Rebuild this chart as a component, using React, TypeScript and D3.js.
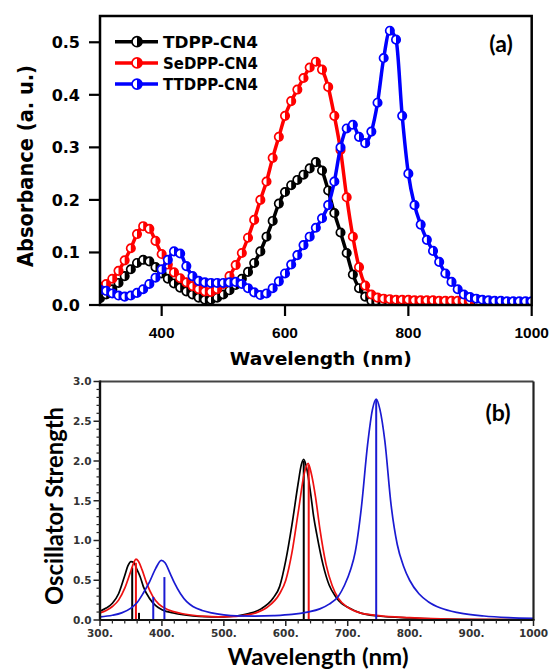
import React from 'react';
import * as d3 from 'd3';

// ---------- Panel (a): absorbance ----------
const absWavelengths = [
  300, 310, 320, 330, 340, 350, 360, 370, 380, 390,
  400, 410, 420, 430, 440, 450, 460, 470, 480, 490,
  500, 510, 520, 530, 540, 550, 560, 570, 580, 590,
  600, 610, 620, 630, 640, 650, 660, 670, 680, 690,
  700, 710, 720, 730, 740, 750, 760, 770, 780, 790,
  800, 810, 820, 830, 840, 850, 860, 870, 880, 890,
  900, 910, 920, 930, 940, 950, 960, 970, 980, 990, 1000,
];
const tdppAbs = [
  0.013, 0.02, 0.03, 0.042, 0.055, 0.068, 0.08, 0.086, 0.083, 0.072,
  0.06, 0.05, 0.041, 0.033, 0.026, 0.02, 0.014, 0.01, 0.01, 0.014,
  0.02, 0.028, 0.038, 0.05, 0.063, 0.08, 0.102, 0.13, 0.16, 0.193,
  0.215, 0.228, 0.238, 0.248, 0.26, 0.272, 0.256, 0.218, 0.175, 0.138,
  0.099, 0.058, 0.032, 0.016, 0.008, 0.005, 0.004, 0.004, 0.004, 0.004,
  0.004, 0.004, 0.004, 0.004, 0.004, 0.004, 0.004, 0.004, 0.004, 0.004,
  0.004, null, null, null, null, null, null, null, null, null, null,
];
const sedppAbs = [
  0.035, 0.04, 0.05, 0.065, 0.085, 0.108, 0.135, 0.15, 0.145, 0.122,
  0.097, 0.077, 0.062, 0.051, 0.043, 0.036, 0.03, 0.026, 0.025, 0.03,
  0.04, 0.055, 0.076, 0.099, 0.128, 0.162, 0.2, 0.235, 0.28, 0.32,
  0.36, 0.388, 0.41, 0.432, 0.452, 0.463, 0.448, 0.415, 0.36, 0.295,
  0.205, 0.13, 0.072, 0.037, 0.02, 0.014, 0.012, 0.011, 0.01, 0.01,
  0.01, 0.009, 0.009, 0.009, 0.009, 0.008, 0.008, 0.008, 0.008, 0.008,
  0.008, null, null, null, null, null, null, null, null, null, null,
];
const ttdppAbs = [
  0.029, 0.027, 0.022, 0.018, 0.016, 0.018, 0.023, 0.03, 0.04, 0.052,
  0.068, 0.086, 0.102, 0.098, 0.074, 0.055, 0.046, 0.043, 0.042, 0.042,
  0.042, 0.043, 0.044, 0.04, 0.032, 0.024, 0.019, 0.022, 0.032, 0.045,
  0.06, 0.077, 0.095, 0.114, 0.13, 0.147, 0.165, 0.19, 0.235, 0.3,
  0.336, 0.343, 0.32, 0.308, 0.33, 0.385, 0.47, 0.522, 0.505, 0.36,
  0.25, 0.19, 0.153, 0.124, 0.103, 0.082, 0.06, 0.044, 0.03, 0.02,
  0.015, 0.012, 0.01, 0.009, 0.008, 0.008, 0.007, 0.007, 0.007, 0.007, 0.007,
];
const absSeriesNames = ['TDPP-CN4', 'SeDPP-CN4', 'TTDPP-CN4'];
const absYTicks = [0.0, 0.1, 0.2, 0.3, 0.4, 0.5];
const absXTicks = [400, 600, 800, 1000];

// ---------- Panel (b): oscillator strength ----------
const tdppOscWl = [300, 310, 320, 330, 340, 345, 350, 355, 360, 365, 370, 380, 390, 400, 420, 440, 460, 480, 500, 520, 540, 560, 580, 590, 600, 610, 620, 625, 629, 634, 640, 645, 650, 660, 670, 680, 690, 700, 720, 750, 800, 850, 900, 1000];
const tdppOscVal = [0.11, 0.15, 0.21, 0.33, 0.56, 0.68, 0.735, 0.72, 0.63, 0.54, 0.42, 0.27, 0.18, 0.13, 0.085, 0.06, 0.045, 0.04, 0.04, 0.05, 0.08, 0.14, 0.28, 0.42, 0.75, 1.2, 1.72, 1.95, 2.02, 1.9, 1.6, 1.3, 1.08, 0.7, 0.44, 0.3, 0.21, 0.16, 0.09, 0.05, 0.025, 0.012, 0.006, 0.002];
const sedppOscWl = [300, 310, 320, 330, 340, 350, 355, 358, 362, 368, 375, 385, 395, 410, 430, 450, 470, 490, 510, 530, 550, 570, 590, 600, 610, 620, 630, 636, 641, 648, 655, 665, 675, 685, 700, 720, 750, 800, 850, 900, 1000];
const sedppOscVal = [0.09, 0.12, 0.17, 0.25, 0.4, 0.62, 0.73, 0.765, 0.74, 0.63, 0.47, 0.3, 0.2, 0.13, 0.085, 0.06, 0.045, 0.04, 0.042, 0.055, 0.085, 0.16, 0.33, 0.5, 0.85, 1.35, 1.85, 1.97, 1.85, 1.55, 1.15, 0.7, 0.43, 0.27, 0.16, 0.09, 0.055, 0.03, 0.015, 0.008, 0.003];
const ttdppOscWl = [300, 320, 335, 350, 360, 370, 380, 390, 399, 405, 413, 420, 430, 440, 450, 465, 480, 500, 520, 550, 580, 610, 635, 655, 670, 685, 695, 705, 712, 722, 732, 740, 746, 752, 760, 770, 780, 790, 800, 815, 830, 850, 880, 920, 960, 1000];
const ttdppOscVal = [0.04, 0.06, 0.09, 0.15, 0.22, 0.34, 0.48, 0.65, 0.75, 0.72, 0.59, 0.47, 0.33, 0.23, 0.17, 0.12, 0.09, 0.065, 0.052, 0.05, 0.055, 0.07, 0.1, 0.14, 0.2, 0.3, 0.44, 0.64, 0.85, 1.41, 2.2, 2.65, 2.78, 2.65, 2.25, 1.45, 0.95, 0.68, 0.5, 0.33, 0.23, 0.15, 0.09, 0.05, 0.03, 0.02];
const tdppStickWl = [352, 363, 629];
const tdppStickF = [0.66, 0.09, 2.0];
const sedppStickWl = [358, 637];
const sedppStickF = [0.72, 1.95];
const ttdppStickWl = [386, 404, 746];
const ttdppStickF = [0.29, 0.54, 2.78];
const oscYTicks = [0.0, 0.5, 1.0, 1.5, 2.0, 2.5, 3.0];
const oscYMinor = [0.1, 0.2, 0.3, 0.4, 0.6, 0.7, 0.8, 0.9, 1.1, 1.2, 1.3, 1.4, 1.6, 1.7, 1.8, 1.9, 2.1, 2.2, 2.3, 2.4, 2.6, 2.7, 2.8, 2.9];
const oscXTicks = [300, 400, 500, 600, 700, 800, 900, 1000];
const oscXLabels = ['300.', '400.', '500.', '600.', '700.', '800.', '900.', '1000'];
const oscXMinor = [320, 340, 360, 380, 420, 440, 460, 480, 520, 540, 560, 580, 620, 640, 660, 680, 720, 740, 760, 780, 820, 840, 860, 880, 920, 940, 960, 980];

const TOP = { left: 100, right: 531.7, top: 16, bottom: 305 };
const BOT = { left: 100, right: 533.5, top: 381.5, bottom: 620 };

const absColors = ['#000000', '#ff0000', '#0000ff'];
const oscColors = ['#000000', '#ee1111', '#1a1ad2'];

function Marker({ x, y, color, r }: { x: number; y: number; color: string; r: number }) {
  return (
    <g transform={`translate(${x},${y})`}>
      <circle r={r} fill="#fff" stroke={color} strokeWidth={1.7} />
      <path d={`M0,${-r} A${r},${r} 0 0 1 0,${r} Z`} fill={color} />
    </g>
  );
}

export default function App() {
  const xA = d3.scaleLinear().domain([300, 1000]).range([TOP.left, TOP.right]);
  const yA = d3.scaleLinear().domain([0, 0.55]).range([TOP.bottom, TOP.top]);
  const xB = d3.scaleLinear().domain([300, 1000]).range([BOT.left, BOT.right]);
  const yB = d3.scaleLinear().domain([0, 3]).range([BOT.bottom, BOT.top]);

  const absSeries = [tdppAbs, sedppAbs, ttdppAbs].map((vals) =>
    absWavelengths
      .map((w, i) => ({ w, v: vals[i] as number | null }))
      .filter((d) => d.v !== null) as { w: number; v: number }[]
  );
  const lineA = d3
    .line<{ w: number; v: number }>()
    .x((d) => xA(d.w))
    .y((d) => yA(d.v))
    .curve(d3.curveMonotoneX);

  const oscSeries = [
    [tdppOscWl, tdppOscVal],
    [sedppOscWl, sedppOscVal],
    [ttdppOscWl, ttdppOscVal],
  ].map(([wl, vals]) => wl.map((w, i) => ({ w, v: vals[i] })));
  const sticks = [
    [tdppStickWl, tdppStickF],
    [sedppStickWl, sedppStickF],
    [ttdppStickWl, ttdppStickF],
  ];
  const lineB = d3
    .line<{ w: number; v: number }>()
    .x((d) => xB(d.w))
    .y((d) => yB(d.v))
    .curve(d3.curveMonotoneX);

  const boldSans = '"DejaVu Sans", sans-serif';
  const arial = '"Liberation Sans", Arial, sans-serif';
  const calibri = 'Lato, "Open Sans", sans-serif';

  return (
    <svg
      width={551}
      height={671}
      style={{ position: 'absolute', left: 0, top: 0, background: '#fff' }}
    >
      <defs>
        <clipPath id="clipA">
          <rect x={TOP.left} y={TOP.top} width={TOP.right - TOP.left} height={TOP.bottom - TOP.top} />
        </clipPath>
        <clipPath id="clipB">
          <rect x={BOT.left} y={BOT.top} width={BOT.right - BOT.left} height={BOT.bottom - BOT.top} />
        </clipPath>
      </defs>
      <rect x={0} y={0} width={551} height={671} fill="#fff" />

      {/* ---------- Panel (a) ---------- */}
      <g clipPath="url(#clipA)">
        {absSeries.map((s, si) => (
          <g key={si}>
            <path d={lineA(s) || ''} fill="none" stroke={absColors[si]} strokeWidth={3.5} />
            {s.map((d, i) => (
              <Marker key={i} x={xA(d.w)} y={yA(d.v)} color={absColors[si]} r={4.2} />
            ))}
          </g>
        ))}
      </g>
      <rect
        x={TOP.left}
        y={TOP.top}
        width={TOP.right - TOP.left}
        height={TOP.bottom - TOP.top}
        fill="none"
        stroke="#000"
        strokeWidth={2.5}
      />
      {absYTicks.map((t) => (
        <g key={t}>
          <line x1={TOP.left - 11} x2={TOP.left} y1={yA(t)} y2={yA(t)} stroke="#000" strokeWidth={2.2} />
          <text
            x={80}
            y={yA(t)}
            dy="0.36em"
            textAnchor="end"
            fontFamily={boldSans}
            fontWeight="bold"
            fontSize={16}
          >
            {t.toFixed(1)}
          </text>
        </g>
      ))}
      {absXTicks.map((t) => (
        <g key={t}>
          <line x1={xA(t)} x2={xA(t)} y1={TOP.bottom} y2={TOP.bottom + 11} stroke="#000" strokeWidth={2.2} />
          <text x={xA(t)} y={338} textAnchor="middle" fontFamily={arial} fontWeight="bold" fontSize={15.5}>
            {t}
          </text>
        </g>
      ))}
      <text
        transform={`translate(33,166) scale(1.15,1) rotate(-90)`}
        textAnchor="middle"
        fontFamily={boldSans}
        fontWeight="bold"
        fontSize={19}
        textLength={202}
        lengthAdjust="spacingAndGlyphs"
      >
        Absorbance (a. u.)
      </text>
      <text
        x={(TOP.left + TOP.right) / 2 + 5}
        y={365}
        textAnchor="middle"
        fontFamily={boldSans}
        fontWeight="bold"
        fontSize={18}
        textLength={182}
        lengthAdjust="spacingAndGlyphs"
      >
        Wavelength (nm)
      </text>
      <text x={501} y={52} textAnchor="middle" fontFamily={calibri} fontWeight="bold" fontSize={23}>
        (a)
      </text>
      {/* legend */}
      {absSeriesNames.map((n, i) => {
        const ly = 41.7 + i * 21.2;
        return (
          <g key={n}>
            <line x1={115} x2={158} y1={ly} y2={ly} stroke={absColors[i]} strokeWidth={3.5} />
            <Marker x={137} y={ly} color={absColors[i]} r={5} />
            <text
              x={163}
              y={ly + 6}
              fontFamily={boldSans}
              fontWeight="bold"
              fontSize={16}
              textLength={95}
              lengthAdjust="spacingAndGlyphs"
            >
              {n}
            </text>
          </g>
        );
      })}

      {/* ---------- Panel (b) ---------- */}
      <g clipPath="url(#clipB)">
        {oscSeries.map((s, si) => (
          <g key={si}>
            <path d={lineB(s) || ''} fill="none" stroke={oscColors[si]} strokeWidth={1.7} />
            {sticks[si][0].map((w, i) => (
              <line
                key={i}
                x1={xB(w)}
                x2={xB(w)}
                y1={yB(0)}
                y2={yB(sticks[si][1][i])}
                stroke={oscColors[si]}
                strokeWidth={2}
              />
            ))}
          </g>
        ))}
      </g>
      <line x1={BOT.left} x2={BOT.right} y1={BOT.top} y2={BOT.top} stroke="#444" strokeWidth={2.2} />
      <line x1={BOT.right} x2={BOT.right} y1={BOT.top} y2={BOT.bottom} stroke="#222" strokeWidth={2.2} />
      <line x1={BOT.left} x2={BOT.right + 1} y1={BOT.bottom} y2={BOT.bottom} stroke="#111" strokeWidth={2.2} />
      <line x1={BOT.left} x2={BOT.left} y1={BOT.top - 1} y2={BOT.bottom + 1} stroke="#111" strokeWidth={2.4} />
      {oscYTicks.map((t) => (
        <g key={t}>
          <line x1={BOT.left - 6.5} x2={BOT.left} y1={yB(t)} y2={yB(t)} stroke="#222" strokeWidth={1.5} />
          <text
            x={91.5}
            y={yB(t)}
            dy="0.36em"
            textAnchor="end"
            fontFamily={boldSans}
            fontWeight="bold"
            fontSize={10.5}
            fill="#333"
          >
            {t.toFixed(1)}
          </text>
        </g>
      ))}
      {oscYMinor.map((t) => (
        <line key={t} x1={BOT.left - 3.5} x2={BOT.left} y1={yB(t)} y2={yB(t)} stroke="#222" strokeWidth={1.2} />
      ))}
      {oscXTicks.map((t, i) => (
        <g key={t}>
          <line x1={xB(t)} x2={xB(t)} y1={BOT.bottom} y2={BOT.bottom + 6} stroke="#222" strokeWidth={1.5} />
          <text
            x={xB(t)}
            y={637}
            textAnchor="middle"
            fontFamily={boldSans}
            fontWeight="bold"
            fontSize={10.5}
            fill="#333"
          >
            {oscXLabels[i]}
          </text>
        </g>
      ))}
      {oscXMinor.map((t) => (
        <line key={t} x1={xB(t)} x2={xB(t)} y1={BOT.bottom} y2={BOT.bottom + 3.5} stroke="#222" strokeWidth={1.2} />
      ))}
      <text
        transform={`translate(63,506) scale(1.15,1) rotate(-90)`}
        textAnchor="middle"
        fontFamily={calibri}
        fontWeight="bold"
        fontSize={21}
        textLength={198}
        lengthAdjust="spacingAndGlyphs"
      >
        Oscillator Strength
      </text>
      <text
        x={318}
        y={665}
        textAnchor="middle"
        fontFamily={calibri}
        fontWeight="bold"
        fontSize={23}
        textLength={181}
        lengthAdjust="spacingAndGlyphs"
      >
        Wavelength (nm)
      </text>
      <text x={498} y={421} textAnchor="middle" fontFamily={calibri} fontWeight="bold" fontSize={23}>
        (b)
      </text>
    </svg>
  );
}
